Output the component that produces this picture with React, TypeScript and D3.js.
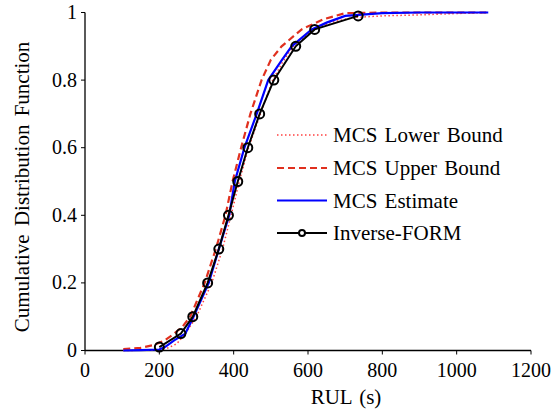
import React from "react";
import * as d3 from "d3";

const formX = [200, 258, 290, 330, 360, 386, 411, 438, 470, 508, 567, 618, 735];
const formY = [0.01, 0.05, 0.1, 0.2, 0.3, 0.4, 0.5, 0.6, 0.7, 0.8, 0.9, 0.95, 0.99];

const estX = [103, 150, 200, 215, 240, 270, 292, 333, 360, 388, 403, 429, 462, 493, 530, 556, 610, 650, 700, 800, 900, 1085];
const estY = [0, 0.001, 0.003, 0.01, 0.03, 0.05, 0.1, 0.2, 0.3, 0.4, 0.5, 0.6, 0.7, 0.8, 0.86, 0.9, 0.95, 0.97, 0.99, 0.998, 1, 1];

const upX = [103, 150, 184, 215, 240, 262, 283, 322, 352, 378, 397, 420, 445, 475, 500, 529, 583, 641, 700, 800, 1085];
const upY = [0.004, 0.008, 0.016, 0.03, 0.05, 0.07, 0.1, 0.2, 0.3, 0.4, 0.5, 0.6, 0.7, 0.8, 0.86, 0.9, 0.95, 0.98, 0.998, 1, 1];

const lowX = [103, 180, 220, 247, 270, 300, 341, 370, 393, 415, 440, 472, 505, 530, 560, 615, 660, 720, 800, 900, 1000, 1085];
const lowY = [0, 0.001, 0.006, 0.02, 0.05, 0.1, 0.2, 0.3, 0.4, 0.5, 0.6, 0.7, 0.8, 0.85, 0.9, 0.95, 0.97, 0.985, 0.99, 0.993, 0.997, 1];

const xTicks = [0, 200, 400, 600, 800, 1000, 1200];
const yTicks = [0, 0.2, 0.4, 0.6, 0.8, 1];
const yTickLabels = ["0", "0.2", "0.4", "0.6", "0.8", "1"];

const legendLabels = ["MCS Lower Bound", "MCS Upper Bound", "MCS Estimate", "Inverse-FORM"];

const FONT = "Liberation Serif";

export default function App() {
  const W = 560, H = 414;
  const x = d3.scaleLinear().domain([0, 1200]).range([85, 531]);
  const y = d3.scaleLinear().domain([0, 1]).range([350.5, 12.5]);
  const line = d3.line<[number, number]>().x(d => x(d[0])).y(d => y(d[1]));
  const zip = (a: number[], b: number[]) => a.map((v, i) => [v, b[i]] as [number, number]);

  const legendY = [135, 168, 200.5, 233];
  const lx0 = 277, lx1 = 327, tx = 333;
  const ts = { fontFamily: FONT } as React.CSSProperties;

  return (
    <svg width={W} height={H} style={{ position: "absolute", left: 0, top: 0, background: "#fff" }}>
      <rect width={W} height={H} fill="#fff" />
      {/* axes */}
      <line x1={x(0)} x2={x(0)} y1={y(1)} y2={y(0)} stroke="#000" strokeWidth={1.3} />
      <line x1={x(0)} x2={x(1200)} y1={y(0)} y2={y(0)} stroke="#000" strokeWidth={1.3} />
      {xTicks.map(t => (
        <g key={"x" + t}>
          <line x1={x(t)} x2={x(t)} y1={y(0)} y2={y(0) + 4} stroke="#000" strokeWidth={1} />
          <text x={x(t)} y={377} textAnchor="middle" fontSize={20} fill="#000" style={ts}>{t}</text>
        </g>
      ))}
      {yTicks.map((t, i) => (
        <g key={"y" + t}>
          <line x1={x(0) - 4} x2={x(0)} y1={y(t)} y2={y(t)} stroke="#000" strokeWidth={1} />
          <text x={77} y={y(t) + 6.5} textAnchor="end" fontSize={20} fill="#000" style={ts}>{yTickLabels[i]}</text>
        </g>
      ))}
      <text x={346} y={404} textAnchor="middle" fontSize={21} wordSpacing={2} fill="#000" style={ts}>RUL (s)</text>
      <text transform={`translate(29,187) rotate(-90)`} textAnchor="middle" fontSize={21} wordSpacing={3} fill="#000" style={ts}>
        Cumulative Distribution Function
      </text>

      {/* series */}
      <path d={line(zip(lowX, lowY)) || ""} fill="none" stroke="#ff4040" strokeWidth={1.5} strokeDasharray="1.5 2.5" />
      <path d={line(zip(upX, upY)) || ""} fill="none" stroke="#e0301e" strokeWidth={2.2} strokeDasharray="7 4" />
      <path d={line(zip(estX, estY)) || ""} fill="none" stroke="#0000ff" strokeWidth={2.2} />
      <path d={line(zip(formX, formY)) || ""} fill="none" stroke="#000" strokeWidth={2} />
      {formX.map((v, i) => (
        <circle key={"c" + i} cx={x(v)} cy={y(formY[i])} r={4.5} fill="none" stroke="#000" strokeWidth={2} />
      ))}

      {/* legend */}
      <line x1={lx0} x2={lx1} y1={legendY[0]} y2={legendY[0]} stroke="#ff4040" strokeWidth={1.5} strokeDasharray="1.5 2.5" />
      <line x1={lx0} x2={lx1} y1={legendY[1]} y2={legendY[1]} stroke="#e0301e" strokeWidth={2.2} strokeDasharray="7 4" />
      <line x1={lx0} x2={lx1} y1={legendY[2]} y2={legendY[2]} stroke="#0000ff" strokeWidth={2.2} />
      <line x1={lx0} x2={lx1} y1={legendY[3]} y2={legendY[3]} stroke="#000" strokeWidth={2} />
      <circle cx={(lx0 + lx1) / 2} cy={legendY[3]} r={3} fill="#fff" stroke="#000" strokeWidth={2} />
      {legendLabels.map((l, i) => (
        <text key={l} x={tx} y={legendY[i] + 7} fontSize={21} wordSpacing={2} fill="#000" style={ts}>{l}</text>
      ))}
    </svg>
  );
}
